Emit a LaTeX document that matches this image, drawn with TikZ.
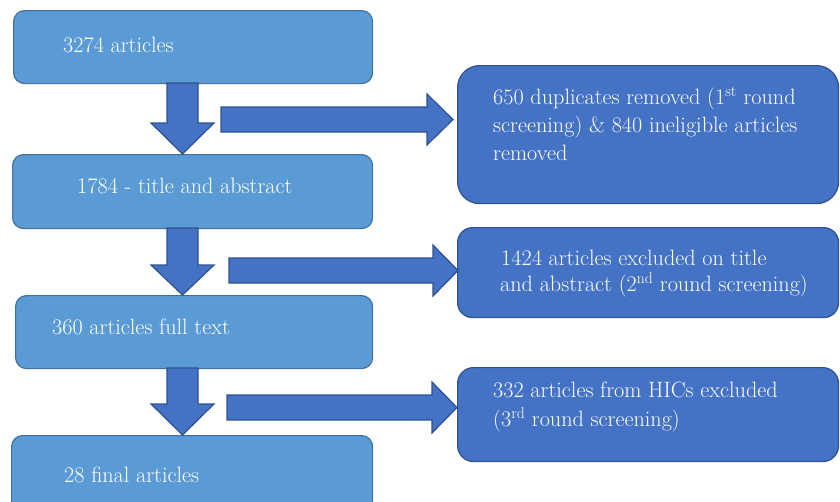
\documentclass[tikz,border=0pt]{standalone}
\definecolor{lightbox}{HTML}{5B9BD5}
\definecolor{lightedge}{HTML}{41719C}
\definecolor{darkbox}{HTML}{4472C4}
\definecolor{darkedge}{HTML}{2F528F}
\begin{document}
\begin{tikzpicture}[x=1pt,y=-1pt,
  leftbox/.style={draw=lightedge, fill=lightbox, line width=1.2pt, rounded corners=11pt, anchor=north west, inner sep=0pt},
  rightbox/.style={draw=darkedge, fill=darkbox, line width=1.2pt, anchor=north west, inner sep=0pt},
  blockarrow/.style={draw=darkedge, fill=darkbox, line width=1.2pt, line join=miter},
  txt/.style={text=white, anchor=base west, inner sep=0pt, font=\fontsize{22.2}{28}\selectfont}]
\clip (0,0) rectangle (840,501);
\fill[white] (0,0) rectangle (840,501);
% left boxes
\node[leftbox, minimum width=359pt, minimum height=73pt] (b1) at (13,10) {};
\node[leftbox, minimum width=360pt, minimum height=74pt] (b2) at (12,154) {};
\node[leftbox, minimum width=357pt, minimum height=73pt] (b3) at (15,295) {};
\node[leftbox, minimum width=361pt, minimum height=80pt] (b4) at (11,435) {};
% right boxes
\node[rightbox, rounded corners=22pt, minimum width=381pt, minimum height=138pt] (r1) at (457,65) {};
\node[rightbox, rounded corners=15pt, minimum width=381pt, minimum height=90pt] (r2) at (457,227) {};
\node[rightbox, rounded corners=16pt, minimum width=381pt, minimum height=94pt] (r3) at (457,367) {};
% down arrows
\draw[blockarrow] (167,83) -- (198,83) -- (198,123) -- (214,123) -- (182.5,154) -- (151,123) -- (167,123) -- cycle;
\draw[blockarrow] (167,228) -- (198,228) -- (198,265) -- (214,265) -- (182.5,295) -- (151,265) -- (167,265) -- cycle;
\draw[blockarrow] (167,368) -- (198,368) -- (198,404) -- (214,404) -- (182.5,435) -- (151,404) -- (167,404) -- cycle;
% right arrows
\draw[blockarrow] (221,107) -- (427,107) -- (427,94) -- (453,119.5) -- (427,145) -- (427,132) -- (221,132) -- cycle;
\draw[blockarrow] (229,258) -- (433,258) -- (433,245) -- (458,270.5) -- (433,296) -- (433,283) -- (229,283) -- cycle;
\draw[blockarrow] (227,395) -- (432,395) -- (432,382) -- (457,407.5) -- (432,433) -- (432,420) -- (227,420) -- cycle;
% texts
\node[txt] (t1) at (63,52) {3274 articles};
\node[txt] (t2) at (77,193) {1784 - title and abstract};
\node[txt] (t3) at (52,334) {360 articles full text};
\node[txt] (t4) at (64,482) {28 final articles};
\node[txt] (r1a) at (493,104) {650 duplicates removed (1\textsuperscript{st} round};
\node[txt] (r1b) at (493,132) {screening) \& 840 ineligible articles};
\node[txt] (r1c) at (493,160) {removed};
\node[txt] (r2a) at (501,265) {1424 articles excluded on title};
\node[txt] (r2b) at (500,291) {and abstract (2\textsuperscript{nd} round screening)};
\node[txt] (r3a) at (493,397) {332 articles from HICs excluded};
\node[txt] (r3b) at (493,426) {(3\textsuperscript{rd} round screening)};
\end{tikzpicture}
\end{document}
